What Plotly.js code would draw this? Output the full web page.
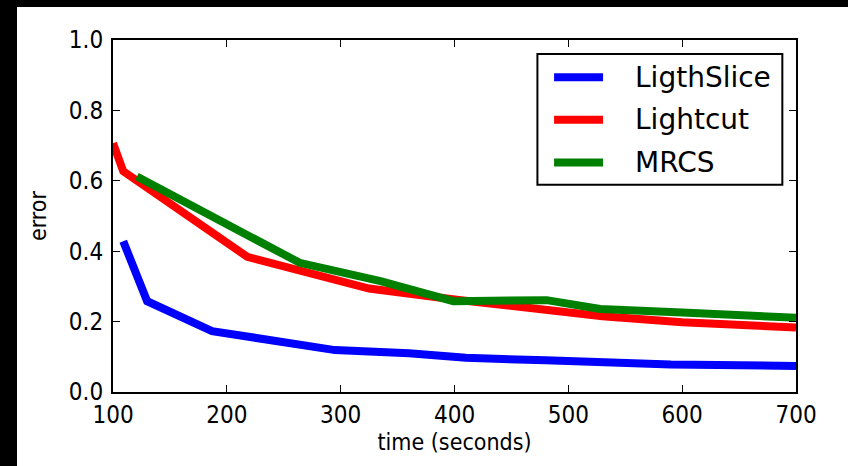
<!DOCTYPE html>
<html>
<head>
<meta charset="utf-8">
<script src="https://cdn.plot.ly/plotly-3.0.1.min.js"></script>
<style>
  html, body { margin: 0; padding: 0; background: #000; width: 848px; height: 466px; overflow: hidden; }
  #chart { position: absolute; left: 17px; top: 7px; width: 831px; height: 459px; background: #fff; }
</style>
</head>
<body>
<div id="chart"></div>
<script>
// ---- data ----
const seriesNames = ["LigthSlice", "Lightcut", "MRCS"];
const seriesColors = ["#0000ff", "#ff0000", "#008000"];

const lightsliceTime  = [109, 130, 187, 295, 360, 410, 480, 590, 700];
const lightsliceError = [0.428, 0.258, 0.173, 0.119, 0.110, 0.097, 0.090, 0.078, 0.074];

const lightcutTime  = [100, 109, 218, 325, 400, 480, 530, 600, 660, 700];
const lightcutError = [0.707, 0.627, 0.384, 0.294, 0.263, 0.235, 0.215, 0.198, 0.188, 0.183];

const mrcsTime  = [121, 264, 335, 399, 481, 528, 600, 700];
const mrcsError = [0.612, 0.367, 0.315, 0.258, 0.261, 0.236, 0.226, 0.211];

const xTicks = [100, 200, 300, 400, 500, 600, 700];
const yTicks = [0.0, 0.2, 0.4, 0.6, 0.8, 1.0];

const xs = [lightsliceTime, lightcutTime, mrcsTime];
const ys = [lightsliceError, lightcutError, mrcsError];

const traces = seriesNames.map((n, i) => ({
  type: "scatter", mode: "lines", name: n,
  x: xs[i], y: ys[i],
  line: { color: seriesColors[i], width: 8 },
  showlegend: false, hoverinfo: "skip"
}));

const tickFont = { family: "DejaVu Sans Condensed, DejaVu Sans, sans-serif", size: 24, color: "#000" };
const titleFont = { family: "DejaVu Sans Condensed, DejaVu Sans, sans-serif", size: 23, color: "#000" };

// manual legend (paper coordinates)
const legBox = { x0: 0.6214, x1: 0.980, y0: 0.5889, y1: 0.9603 };
const legRows = [0.8942, 0.7732, 0.6521];
const shapes = [{
  type: "rect", xref: "paper", yref: "paper",
  x0: legBox.x0, x1: legBox.x1, y0: legBox.y0, y1: legBox.y1,
  line: { color: "#000", width: 2 }, fillcolor: "#fff", layer: "above"
}];
const annotations = [];
seriesNames.forEach((n, i) => {
  shapes.push({
    type: "line", xref: "paper", yref: "paper",
    x0: 0.6458, x1: 0.7175, y0: legRows[i], y1: legRows[i],
    line: { color: seriesColors[i], width: 8 }, layer: "above"
  });
  annotations.push({
    xref: "paper", yref: "paper", x: 0.7615, y: legRows[i],
    xanchor: "left", yanchor: "middle", showarrow: false, text: n,
    font: { family: "DejaVu Sans, sans-serif", size: 28, color: "#000" }
  });
});

const layout = {
  width: 831, height: 459,
  margin: { l: 96, r: 52, t: 33, b: 74 },
  paper_bgcolor: "#fff", plot_bgcolor: "#fff",
  showlegend: false,
  xaxis: {
    range: [100, 700], tickvals: xTicks, ticktext: xTicks.map(String),
    ticks: "inside", ticklen: 7, tickwidth: 1, tickcolor: "#000",
    showline: true, linecolor: "#000", linewidth: 2, mirror: "allticks",
    showgrid: false, zeroline: false, tickfont: tickFont,
    title: { text: "time (seconds)", font: titleFont, standoff: 1 }
  },
  yaxis: {
    range: [0, 1], tickvals: yTicks, ticktext: yTicks.map(v => v.toFixed(1)),
    ticks: "inside", ticklen: 7, tickwidth: 1, tickcolor: "#000",
    showline: true, linecolor: "#000", linewidth: 2, mirror: "allticks",
    showgrid: false, zeroline: false, tickfont: tickFont, ticklabelstandoff: 3,
    title: { text: "error", font: titleFont, standoff: 16 }
  },
  shapes: shapes,
  annotations: annotations
};

Plotly.newPlot("chart", traces, layout, { staticPlot: true, displayModeBar: false });
</script>
</body>
</html>
